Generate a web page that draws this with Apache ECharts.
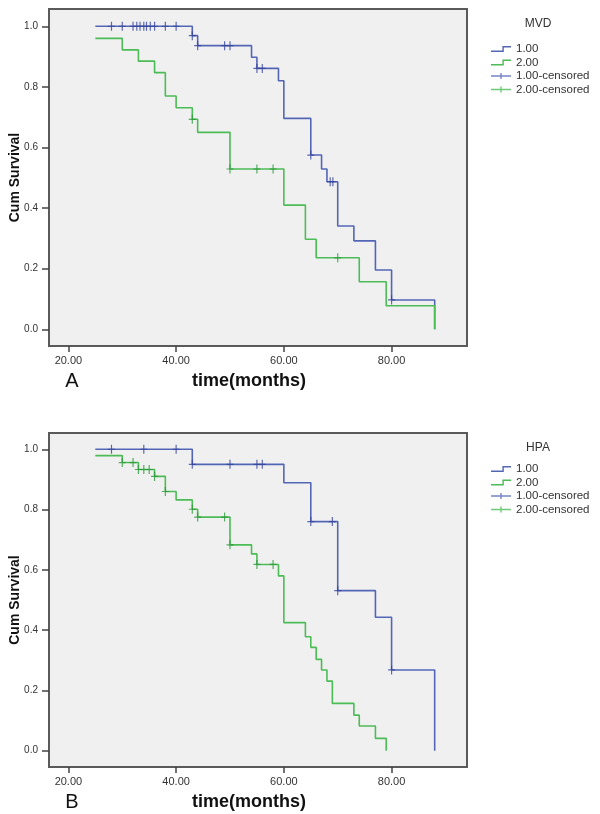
<!DOCTYPE html>
<html>
<head>
<meta charset="utf-8">
<script src="https://cdn.jsdelivr.net/npm/echarts@6/dist/echarts.min.js"></script>
<style>html,body{margin:0;padding:0;background:#fff}#c{width:600px;height:814px}</style>
</head>
<body>
<div id="c"></div>
<script>
// ---- data ----
const timeTicks = [20, 40, 60, 80];
const survTicks = [0, 0.2, 0.4, 0.6, 0.8, 1.0];
const groupNames = ['1.00', '2.00', '1.00-censored', '2.00-censored'];

// Panel A (MVD)
const mvdG1Time = [25, 43, 44, 54, 55, 59, 60, 65, 67, 68, 70, 73, 77, 80, 88];
const mvdG1Surv = [1.0, 0.969, 0.936, 0.898, 0.861, 0.820, 0.696, 0.575, 0.529, 0.487, 0.341, 0.292, 0.196, 0.097, 0];
const mvdG2Time = [25, 30, 33, 36, 38, 40, 43, 44, 50, 60, 64, 66, 74, 79, 88];
const mvdG2Surv = [0.960, 0.922, 0.885, 0.847, 0.770, 0.731, 0.693, 0.650, 0.529, 0.410, 0.297, 0.236, 0.157, 0.078, 0];
const mvdG1CensTime = [28, 30, 32, 32.7, 33.3, 34, 34.5, 35.2, 36, 38, 40, 43, 44, 49, 50, 55, 56, 65, 68.6, 69.1, 80];
const mvdG1CensSurv = [1, 1, 1, 1, 1, 1, 1, 1, 1, 1, 1, 0.969, 0.936, 0.936, 0.936, 0.861, 0.861, 0.575, 0.487, 0.487, 0.097];
const mvdG2CensTime = [43, 50, 55, 58, 70];
const mvdG2CensSurv = [0.693, 0.529, 0.529, 0.529, 0.236];

// Panel B (HPA)
const hpaG1Time = [25, 43, 60, 65, 70, 77, 80, 88];
const hpaG1Surv = [1.0, 0.950, 0.889, 0.760, 0.531, 0.443, 0.268, 0];
const hpaG2Time = [25, 30, 33, 36, 38, 40, 43, 44, 50, 54, 55, 59, 60, 64, 65, 66, 67, 68, 69, 73, 74, 77, 79];
const hpaG2Surv = [0.979, 0.956, 0.933, 0.910, 0.860, 0.832, 0.801, 0.775, 0.683, 0.653, 0.618, 0.580, 0.425, 0.378, 0.343, 0.303, 0.268, 0.231, 0.157, 0.118, 0.082, 0.041, 0];
const hpaG1CensTime = [28, 34, 40, 43, 50, 55, 56, 65, 69, 70, 80];
const hpaG1CensSurv = [1, 1, 1, 0.950, 0.950, 0.950, 0.950, 0.760, 0.760, 0.531, 0.268];
const hpaG2CensTime = [30, 32, 33, 34, 35, 36, 38, 43, 44, 49, 50, 55, 58];
const hpaG2CensSurv = [0.956, 0.956, 0.933, 0.933, 0.933, 0.910, 0.860, 0.801, 0.775, 0.775, 0.683, 0.618, 0.618];

// ---- styling ----
const FONT = 'Liberation Sans, Arial, sans-serif';
const BLUE = '#5366b6';
const GREEN = '#4cbc56';
const BLUE_D = '#34449c';
const GREEN_D = '#2b9a3a';
const STEP_ICON = 'path://M0,4.6 H11.4 V0 H20 V1.4 H12.8 V6 H0 Z';
const CROSS_ICON = 'path://M0,2.3 H9.3 V0 H10.7 V2.3 H20 V3.7 H10.7 V6 H9.3 V3.7 H0 Z';
const CENS_SYM = 'path://M0,4 H3 V0 H4.2 V4 H7.2 V5.2 H4.2 V9.2 H3 V5.2 H0 Z';

const zip = (a, b) => a.map((v, i) => [v, b[i]]);

function xAxisFor(idx) {
  return {
    type: 'value', gridIndex: idx, min: 16.4, max: 94.0,
    axisLine: { show: true, onZero: false, lineStyle: { color: '#5a5a5a', width: 2 } },
    axisTick: { show: true, length: 6, customValues: timeTicks, lineStyle: { color: '#444', width: 1.5 } },
    axisLabel: { customValues: timeTicks, margin: 9, color: '#333', fontFamily: FONT, fontSize: 11,
      formatter: v => v.toFixed(2) },
    splitLine: { show: false }
  };
}
function yAxisFor(idx, mn, mx) {
  return {
    type: 'value', gridIndex: idx, min: mn, max: mx,
    name: 'Cum Survival', nameLocation: 'middle', nameGap: 27, nameMoveOverlap: false,
    nameTextStyle: { fontFamily: FONT, fontSize: 14, fontWeight: 'bold', color: '#111' },
    axisLine: { show: true, onZero: false, lineStyle: { color: '#5a5a5a', width: 2 } },
    axisTick: { show: true, length: 7, customValues: survTicks, lineStyle: { color: '#444', width: 1.5 } },
    axisLabel: { customValues: survTicks, margin: 11, color: '#333', fontFamily: FONT, fontSize: 10,
      formatter: v => v.toFixed(1) },
    splitLine: { show: false }
  };
}
function stepSeries(name, idx, t, s, color) {
  return { name, type: 'line', xAxisIndex: idx, yAxisIndex: idx, step: 'end', showSymbol: false,
    symbol: 'none', data: zip(t, s), lineStyle: { color, width: 1.6 }, itemStyle: { color },
    animation: false, silent: true, z: 3 };
}
function censSeries(name, idx, t, s, color) {
  return { name, type: 'scatter', xAxisIndex: idx, yAxisIndex: idx, symbol: CENS_SYM,
    symbolSize: [7, 9], data: zip(t, s), itemStyle: { color }, animation: false, silent: true, z: 4 };
}
function legendFor(top) {
  return {
    orient: 'vertical', left: 491, top, itemWidth: 20, itemHeight: 6, itemGap: 1.5,
    selectedMode: false, padding: 0,
    textStyle: { fontFamily: FONT, fontSize: 11.5, color: '#333' },
    data: [
      { name: groupNames[0], icon: STEP_ICON, itemStyle: { color: BLUE } },
      { name: groupNames[1], icon: STEP_ICON, itemStyle: { color: GREEN } },
      { name: groupNames[2], icon: CROSS_ICON, itemStyle: { color: BLUE } },
      { name: groupNames[3], icon: CROSS_ICON, itemStyle: { color: GREEN } }
    ]
  };
}
const txt = (x, y, text, size, weight) => ({ type: 'text', x, y, style: { text, fontFamily: FONT,
  fontSize: size, fontWeight: weight, fill: '#111', align: 'center', verticalAlign: 'middle' } });

const chart = echarts.init(document.getElementById('c'), null, { renderer: 'canvas' });
chart.setOption({
  backgroundColor: '#ffffff',
  animation: false,
  grid: [
    { left: 49, top: 9, width: 418, height: 337, outerBoundsMode: 'none', containLabel: false, show: true, backgroundColor: '#f0f0f0', borderColor: '#5a5a5a', borderWidth: 2 },
    { left: 49, top: 433, width: 418, height: 334, outerBoundsMode: 'none', containLabel: false, show: true, backgroundColor: '#f0f0f0', borderColor: '#5a5a5a', borderWidth: 2 }
  ],
  xAxis: [xAxisFor(0), xAxisFor(1)],
  yAxis: [yAxisFor(0, -0.055, 1.057), yAxisFor(1, -0.054, 1.054)],
  legend: [legendFor(43), legendFor(463)],
  title: [
    { text: 'MVD', left: 538, top: 18, padding: 0, textAlign: 'center', textStyle: { fontFamily: FONT, fontSize: 12, fontWeight: 'normal', color: '#333' } },
    { text: 'HPA', left: 538, top: 442, padding: 0, textAlign: 'center', textStyle: { fontFamily: FONT, fontSize: 12, fontWeight: 'normal', color: '#333' } }
  ],
  graphic: [
    txt(72, 381, 'A', 20, 'normal'),
    txt(249, 381, 'time(months)', 18, 'bold'),
    txt(72, 802, 'B', 20, 'normal'),
    txt(249, 802, 'time(months)', 18, 'bold')
  ],
  series: [
    stepSeries(groupNames[0], 0, mvdG1Time, mvdG1Surv, BLUE),
    stepSeries(groupNames[1], 0, mvdG2Time, mvdG2Surv, GREEN),
    censSeries(groupNames[2], 0, mvdG1CensTime, mvdG1CensSurv, BLUE_D),
    censSeries(groupNames[3], 0, mvdG2CensTime, mvdG2CensSurv, GREEN_D),
    stepSeries(groupNames[0], 1, hpaG1Time, hpaG1Surv, BLUE),
    stepSeries(groupNames[1], 1, hpaG2Time, hpaG2Surv, GREEN),
    censSeries(groupNames[2], 1, hpaG1CensTime, hpaG1CensSurv, BLUE_D),
    censSeries(groupNames[3], 1, hpaG2CensTime, hpaG2CensSurv, GREEN_D)
  ]
});
</script>
</body>
</html>
